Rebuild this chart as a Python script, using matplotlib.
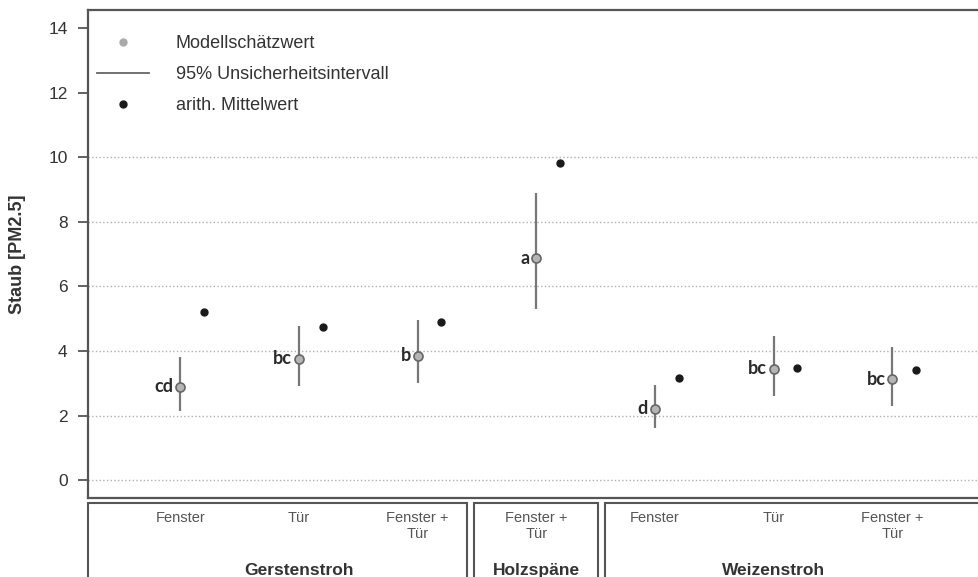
import numpy as np
import matplotlib
matplotlib.use("Agg")
import matplotlib.pyplot as plt
from matplotlib.lines import Line2D
from matplotlib.patches import Rectangle
import matplotlib.transforms as mtransforms

plt.rcParams['font.family'] = ['Liberation Sans', 'DejaVu Sans']

# Daten: Modellschaetzwerte, 95%-Intervalle, arithmetische Mittelwerte
kategorien = ["Fenster", "Tür", "Fenster +\nTür", "Fenster +\nTür", "Fenster", "Tür", "Fenster +\nTür"]
gruppen = ["Gerstenstroh", "Holzspäne", "Weizenstroh"]
gruppe_idx = [0, 0, 0, 1, 2, 2, 2]
schaetzwert = [2.89, 3.76, 3.86, 6.87, 2.22, 3.45, 3.13]
ci_unten = [2.13, 2.91, 3.01, 5.30, 1.62, 2.60, 2.29]
ci_oben = [3.81, 4.78, 4.95, 8.88, 2.94, 4.47, 4.14]
mittelwert = [5.22, 4.73, 4.90, 9.81, 3.15, 3.47, 3.40]
buchstaben = ["cd", "bc", "b", "a", "d", "bc", "bc"]

x = np.arange(1, len(kategorien) + 1)
W, H = 979, 577

fig = plt.figure(figsize=(W / 100, H / 100), dpi=100)
ax = fig.add_axes([87.7 / W, 1 - 498.3 / H, (985 - 87.7) / W, (498.3 - 10) / H])
ax.set_xlim(0.22, 7.78)
ax.set_ylim(-0.56, 14.56)

# Hilfslinien
ax.hlines(np.arange(0, 11, 2), 0.22, 7.78, colors="#b0b0b0", linestyles=":", lw=1.0, zorder=0)

# Intervalle und Punkte
ax.vlines(x, ci_unten, ci_oben, colors="#777777", lw=1.6, zorder=2)
ax.plot(x, schaetzwert, "o", ms=6.5, mfc="#b5b5b5", mec="#666666", mew=1.2, zorder=3)
ax.plot(x + 0.2, mittelwert, "o", ms=5, color="#1a1a1a", zorder=3)

for xi, yi, b in zip(x, schaetzwert, buchstaben):
    ax.annotate(b, (xi, yi), xytext=(-5, 0), textcoords="offset points",
                ha="right", va="center", fontsize=13, fontweight="bold",
                family=["Lato", "DejaVu Sans"], color="#2a2a2a")

ax.set_yticks(np.arange(0, 15, 2))
ax.set_xticks([])
ax.tick_params(axis="y", length=7.5, width=1.3, color="#555555", pad=7,
               labelsize=12.5, labelcolor="#333333")
for s in ax.spines.values():
    s.set_color("#555555")
    s.set_linewidth(1.6)

fig.text(18 / W, 1 - 254 / H, "Staub [PM2.5]", rotation=90, ha="center", va="center",
         fontsize=13, fontweight="bold", color="#333333")

handles = [
    Line2D([], [], ls="", marker="o", ms=5, color="#aaaaaa"),
    Line2D([], [], color="#666666", lw=1.3),
    Line2D([], [], ls="", marker="o", ms=5, color="#1a1a1a"),
]
labels = ["Modellschätzwert", "95% Unsicherheitsintervall", "arith. Mittelwert"]
leg = ax.legend(handles, labels, loc="upper left", frameon=False, fontsize=13,
                bbox_to_anchor=((97 - 87.7) / 897.3, (498.3 - 35) / 488.3),
                borderpad=0, borderaxespad=0, handlelength=2.9, handletextpad=1.45,
                labelspacing=0.78)
for t in leg.get_texts():
    t.set_color("#333333")

# Beschriftungsleiste unter der Grafik
sx = fig.add_axes([87.7 / W, 1 - 600 / H, (985 - 87.7) / W, 97 / H])
sx.set_xlim(0.22, 7.78)
sx.set_ylim(0, 1)
sx.axis("off")
trans = mtransforms.blended_transform_factory(sx.transData, sx.transAxes)
kasten = [(0.22, 3.415), (3.475, 4.52), (4.58, 7.78)]
for (a, b) in kasten:
    sx.add_patch(Rectangle((a, 0), b - a, 1, transform=trans, fill=False,
                           ec="#555555", lw=1.5, clip_on=False))

for xi, k in zip(x, kategorien):
    sx.text(xi, (600 - 511) / 97, k, transform=trans, ha="center", va="top",
            fontsize=10.5, color="#555555", linespacing=1.2)

for gi, g in enumerate(gruppen):
    xs = [xi for xi, i in zip(x, gruppe_idx) if i == gi]
    sx.text(np.mean(xs), (600 - 570) / 97, g, transform=trans, ha="center", va="center",
            fontsize=12.5, fontweight="bold", color="#333333")

fig.savefig("out.png", dpi=100)
